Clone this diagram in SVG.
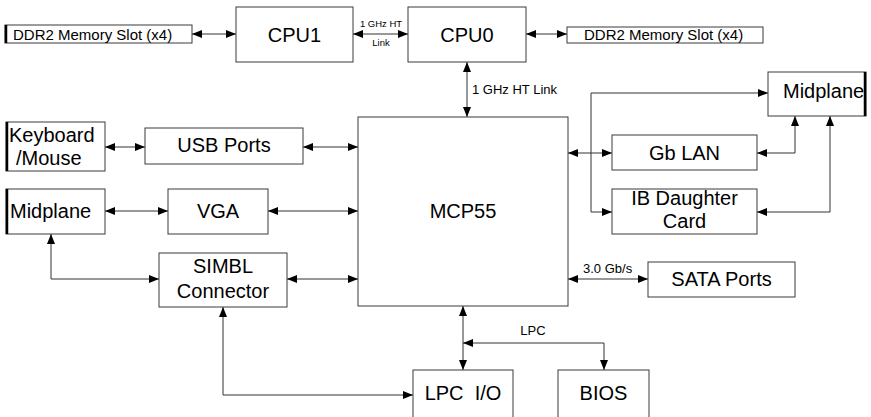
<svg xmlns="http://www.w3.org/2000/svg" width="871" height="417" viewBox="0 0 871 417">
<style>
.box{fill:#fff;stroke:#3a3a3a;stroke-width:1}
.edge{stroke:#000;stroke-width:2.5}
.lbl{font-family:"Liberation Sans",Arial,sans-serif;font-size:20px;fill:#000}
.mem{font-family:"Liberation Sans",Arial,sans-serif;font-size:15px;fill:#000}
.sm{font-family:"Liberation Sans",Arial,sans-serif;font-size:13px;fill:#000}
.xs{font-family:"Liberation Sans",Arial,sans-serif;font-size:9.5px;fill:#000}
.c{fill:none;stroke:#333;stroke-width:1}
</style>
<defs>
<marker id="ah" markerUnits="userSpaceOnUse" markerWidth="10" markerHeight="10" viewBox="0 0 10 10" refX="10" refY="5" orient="auto-start-reverse">
<path d="M0,1 L10,5 L0,9 Z" fill="#000"/>
</marker>
</defs>
<rect width="871" height="417" fill="#fff"/>
<g id="connectors">
<path class="c" d="M192,34 H236" marker-start="url(#ah)" marker-end="url(#ah)"/>
<path class="c" d="M353,34 H408" marker-start="url(#ah)" marker-end="url(#ah)"/>
<path class="c" d="M526,34 H567" marker-start="url(#ah)" marker-end="url(#ah)"/>
<path class="c" d="M467,62 V117" marker-start="url(#ah)" marker-end="url(#ah)"/>
<path class="c" d="M105,147 H145" marker-start="url(#ah)" marker-end="url(#ah)"/>
<path class="c" d="M303,147 H358" marker-start="url(#ah)" marker-end="url(#ah)"/>
<path class="c" d="M105,211 H168" marker-start="url(#ah)" marker-end="url(#ah)"/>
<path class="c" d="M268,211 H358" marker-start="url(#ah)" marker-end="url(#ah)"/>
<path class="c" d="M287,279 H358" marker-start="url(#ah)" marker-end="url(#ah)"/>
<path class="c" d="M51,234 V279 H159" marker-start="url(#ah)" marker-end="url(#ah)"/>
<path class="c" d="M223,307 V395 H413" marker-start="url(#ah)" marker-end="url(#ah)"/>
<path class="c" d="M463,306 V370" marker-start="url(#ah)" marker-end="url(#ah)"/>
<path class="c" d="M463,343 H604 V370" marker-start="url(#ah)" marker-end="url(#ah)"/>
<path class="c" d="M568,153 H612" marker-start="url(#ah)" marker-end="url(#ah)"/>
<path class="c" d="M768,93 H591 V212 H612" marker-start="url(#ah)" marker-end="url(#ah)"/>
<path class="c" d="M757,153 H795 V116" marker-start="url(#ah)" marker-end="url(#ah)"/>
<path class="c" d="M757,212 H830 V116" marker-start="url(#ah)" marker-end="url(#ah)"/>
<path class="c" d="M568,279 H648" marker-start="url(#ah)" marker-end="url(#ah)"/>
<text class="xs" x="381" y="27" text-anchor="middle">1 GHz HT</text>
<text class="xs" x="381" y="46" text-anchor="middle">Link</text>
<text class="sm" x="472" y="94">1 GHz HT Link</text>
<text class="sm" x="583" y="273">3.0 Gb/s</text>
<text class="sm" x="533" y="335" text-anchor="middle">LPC</text>
</g>
<g id="ddr2-left">
<rect class="box" x="5" y="25" width="187" height="18"/>
<line class="edge" x1="6" y1="25" x2="6" y2="43"/>
<text class="mem" x="13" y="40">DDR2 Memory Slot (x4)</text>
</g>
<g id="cpu1">
<rect class="box" x="236" y="7" width="117" height="55"/>
<text class="lbl" x="294.5" y="41.5" text-anchor="middle">CPU1</text>
</g>
<g id="cpu0">
<rect class="box" x="408" y="7" width="118" height="55"/>
<text class="lbl" x="467" y="41.5" text-anchor="middle">CPU0</text>
</g>
<g id="ddr2-right">
<rect class="box" x="567" y="27" width="196" height="16"/>
<text class="mem" x="584" y="40">DDR2 Memory Slot (x4)</text>
</g>
<g id="midplane-right">
<rect class="box" x="768" y="72" width="98" height="44"/>
<line class="edge" x1="865" y1="72" x2="865" y2="116"/>
<text class="lbl" x="783" y="98">Midplane</text>
</g>
<g id="keyboard-mouse">
<rect class="box" x="6" y="122" width="99" height="49"/>
<line class="edge" x1="7" y1="122" x2="7" y2="171"/>
<text class="lbl" x="9" y="142">Keyboard</text>
<text class="lbl" x="16" y="165">/Mouse</text>
</g>
<g id="usb-ports">
<rect class="box" x="145" y="128" width="158" height="36"/>
<text class="lbl" x="224" y="152" text-anchor="middle">USB Ports</text>
</g>
<g id="midplane-left">
<rect class="box" x="6" y="189" width="99" height="45"/>
<line class="edge" x1="7" y1="189" x2="7" y2="234"/>
<text class="lbl" x="10" y="218">Midplane</text>
</g>
<g id="vga">
<rect class="box" x="168" y="189" width="100" height="45"/>
<text class="lbl" x="218" y="218" text-anchor="middle">VGA</text>
</g>
<g id="simbl">
<rect class="box" x="159" y="253" width="128" height="54"/>
<text class="lbl" x="223" y="273" text-anchor="middle">SIMBL</text>
<text class="lbl" x="223" y="298" text-anchor="middle">Connector</text>
</g>
<g id="mcp55">
<rect class="box" x="358" y="117" width="210" height="189"/>
<text class="lbl" x="463" y="218" text-anchor="middle">MCP55</text>
</g>
<g id="gb-lan">
<rect class="box" x="612" y="135" width="145" height="35"/>
<text class="lbl" x="684.5" y="160" text-anchor="middle">Gb LAN</text>
</g>
<g id="ib-card">
<rect class="box" x="612" y="189" width="145" height="45"/>
<text class="lbl" x="684.5" y="205" text-anchor="middle">IB Daughter</text>
<text class="lbl" x="684.5" y="228" text-anchor="middle">Card</text>
</g>
<g id="sata">
<rect class="box" x="648" y="262" width="147" height="35"/>
<text class="lbl" x="721.5" y="286" text-anchor="middle">SATA Ports</text>
</g>
<g id="lpc-io">
<rect class="box" x="413" y="370" width="100" height="60"/>
<text class="lbl" x="463" y="400" text-anchor="middle" xml:space="preserve">LPC  I/O</text>
</g>
<g id="bios">
<rect class="box" x="558" y="370" width="91" height="60"/>
<text class="lbl" x="603.5" y="400" text-anchor="middle">BIOS</text>
</g>
</svg>
